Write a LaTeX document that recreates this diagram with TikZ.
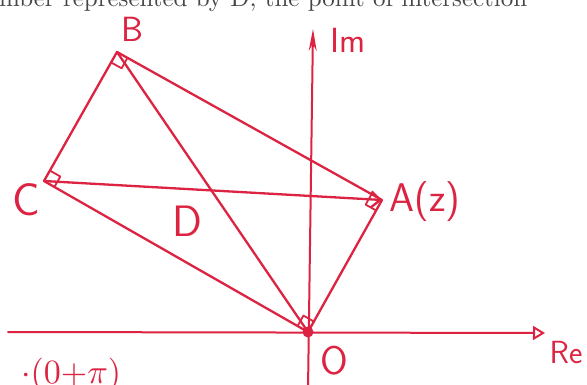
\documentclass[tikz,border=0pt]{standalone}
\usepackage{graphicx}
\usetikzlibrary{arrows.meta,calc}
\definecolor{ink}{RGB}{220,35,65}
\definecolor{druck}{RGB}{70,70,70}

\begin{document}
\begin{tikzpicture}[x=1pt, y=-1pt, line width=2.3pt, draw=ink, line cap=round, line join=round,
    lbl/.style={text=ink, inner sep=0pt, font=\fontsize{40}{44}\selectfont\sffamily},
    klein/.style={font=\fontsize{35}{38}\selectfont\sffamily},
    achse/.style={line width=2pt},
    winkel/.style={line width=1.8pt}]
  \clip (0,0) rectangle (587,385);

  % Gedruckte Zeile oben (abgeschnitten)
  \node[anchor=base west, text=druck, inner sep=0pt] (kopf) at (-2,7)
    {\resizebox{528pt}{!}{mber represented by D, the point of intersection}};

  % Ecken des Rechtecks
  \coordinate (O) at (308,332);
  \coordinate (A) at (382,200);
  \coordinate (B) at (117,52);
  \coordinate (C) at (44,181);

  % Achsen
  \coordinate (reL) at (8,332);
  \coordinate (reR) at (545,333);
  \coordinate (imU) at (308,390);
  \coordinate (imO) at (313,29);
  \draw[achse, -{Triangle[open, length=12pt, width=14pt]}] (reL) -- (reR);
  \draw[achse, -{Stealth[length=22pt, width=8pt]}] (imU) -- (imO);

  % Seiten und Diagonalen
  \draw (B) -- (A) -- (O) -- (C) -- cycle;
  \draw (B) -- (O);
  \draw[-{Straight Barb[length=9pt, width=16pt]}] (C) -- (A);

  % Rechte Winkel
  \foreach \v/\p/\q in {B/A/C, C/B/O, O/C/A, A/O/B} {
    \coordinate (m1) at ($(\v)!12pt!(\p)$);
    \coordinate (m2) at ($(\v)!12pt!(\q)$);
    \draw[winkel] (m1) -- ($(m1)+(m2)-(\v)$) -- (m2);
  }
  \fill[ink] (O) circle (5.5pt);

  % Beschriftungen
  \node[lbl, klein] (lblB) at (132,29) {B};
  \node[lbl, font=\fontsize{46}{50}\selectfont\sffamily] (lblC) at (26,200) {C};
  \node[lbl] (lblA) at (425,202) {A(z)};
  \node[lbl, font=\fontsize{44}{48}\selectfont\sffamily] (lblD) at (187,221) {D};
  \node[lbl, font=\fontsize{40}{44}\selectfont\sffamily] (lblO) at (334,361) {O};
  \node[lbl, klein] (lblIm) at (348,40) {Im};
  \node[lbl, font=\fontsize{32}{36}\selectfont\sffamily] (lblRe) at (566,353) {Re};

  % Rest unten links (abgeschnitten)
  \node[anchor=north west, text=ink, inner sep=0pt] (rest) at (20,357)
    {\scalebox{3.4}{$\cdot(0{+}\pi)$}};
\end{tikzpicture}
\end{document}
